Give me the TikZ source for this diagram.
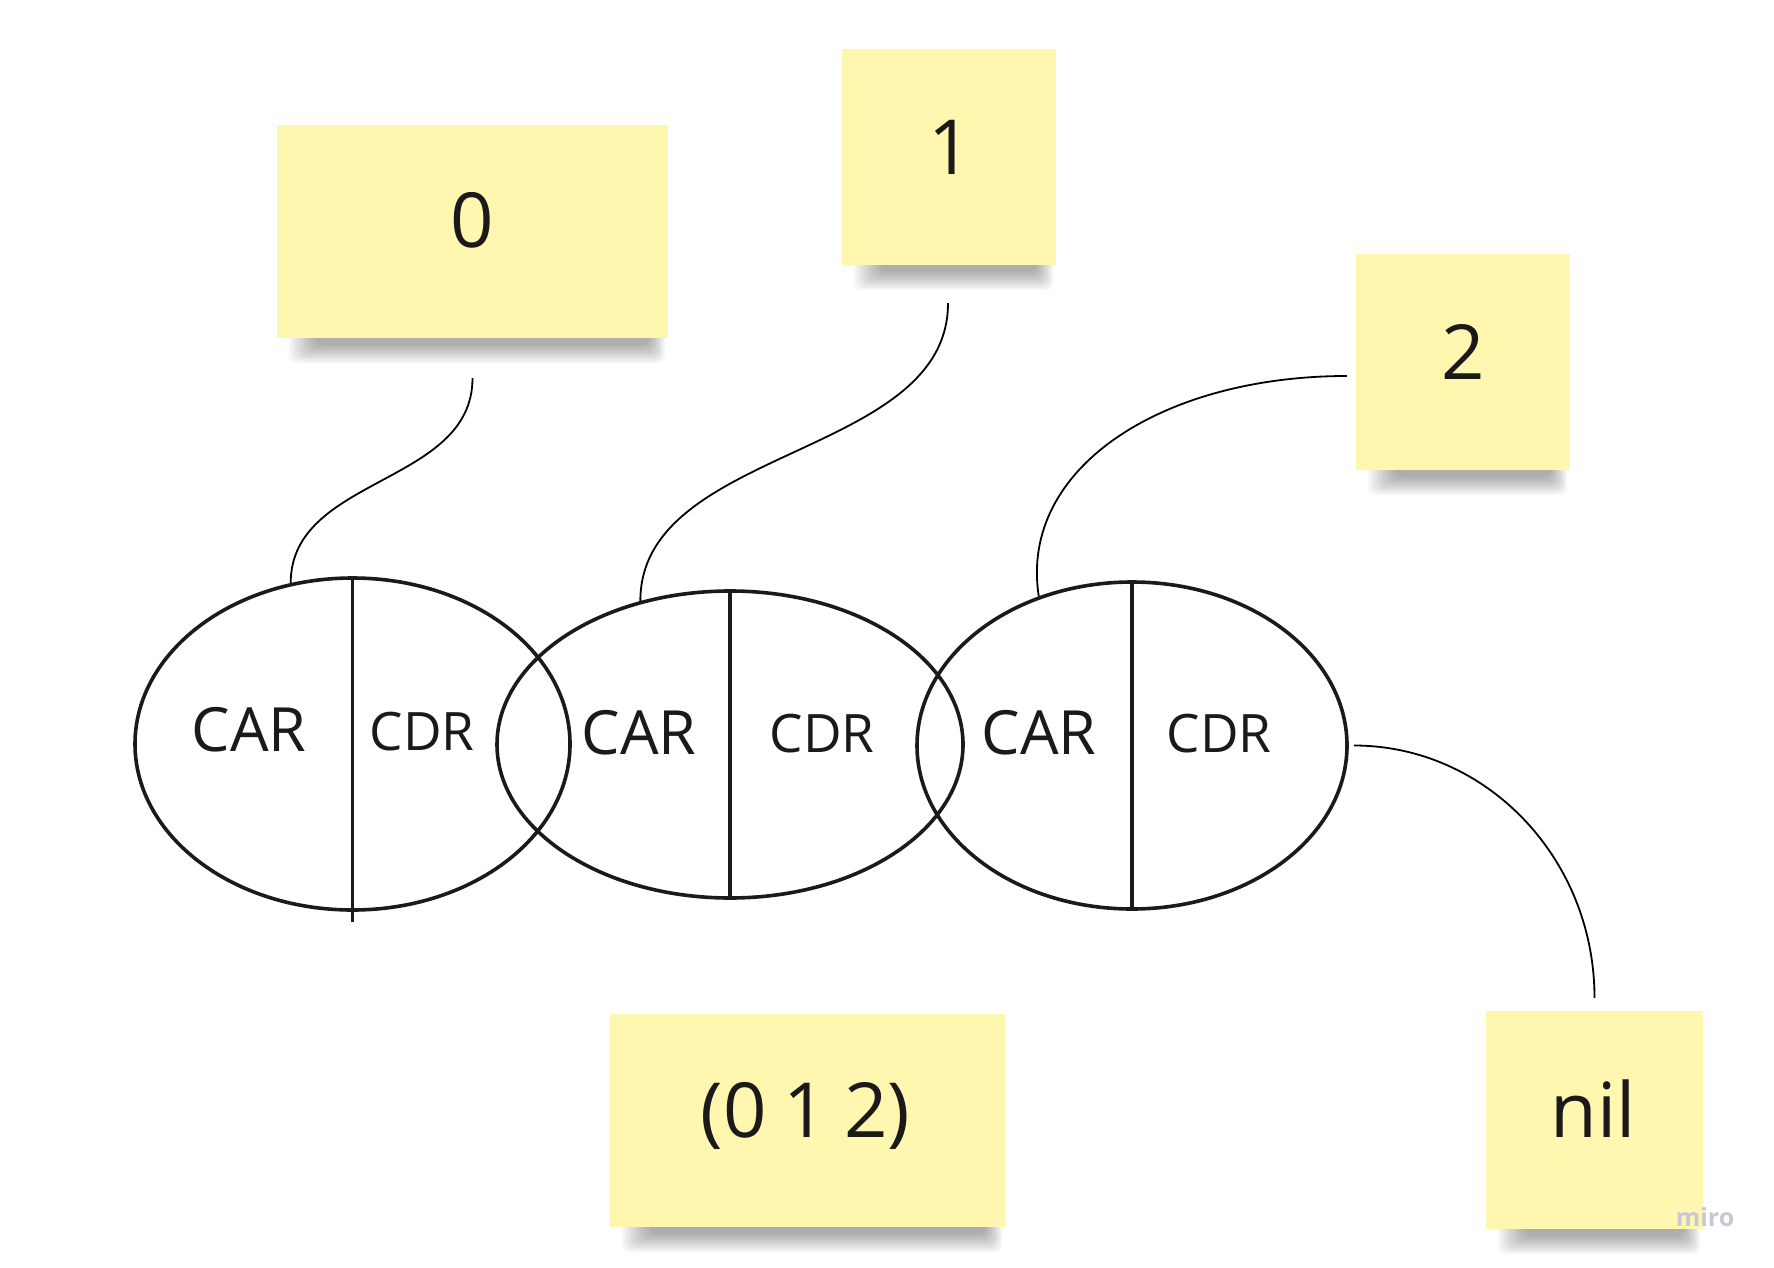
\documentclass[tikz,border=0pt]{standalone}
\usepackage{fontspec}
\setmainfont{Open Sans}
\usetikzlibrary{shapes.geometric,backgrounds}
\definecolor{sticky}{RGB}{255,247,176}
\definecolor{inkc}{RGB}{26,26,26}
\definecolor{wm}{RGB}{200,200,212}
\begin{document}
\begin{tikzpicture}[x=1pt,y=-1pt,
  stickynote/.style={rectangle, fill=sticky, inner sep=0pt},
  bigtxt/.style={inner sep=0pt, anchor=base, text=inkc, font=\fontsize{76}{90}\selectfont},
  cartxt/.style={inner sep=0pt, anchor=base, text=inkc, font=\fontsize{61}{70}\selectfont},
  cdrtxt/.style={inner sep=0pt, anchor=base, text=inkc, font=\fontsize{53}{62}\selectfont},
  cell/.style={ellipse, draw=inkc, line width=3.6pt, inner sep=0pt},
  divider/.style={draw=inkc, line width=3.6pt},
  conn/.style={draw=black, line width=1.8pt},
  shadowlayer/.style={fill=black, opacity=0.034, rounded corners=8pt}
]
\useasboundingbox (0,0) rectangle (1774,1268);

% sticky notes
\node[stickynote, minimum width=391pt, minimum height=213pt] (s0) at (472.5,231.5) {};
\node[stickynote, minimum width=214pt, minimum height=216pt] (s1) at (949,157) {};
\node[stickynote, minimum width=214pt, minimum height=216pt] (s2) at (1463,362) {};
\node[stickynote, minimum width=395pt, minimum height=213pt] (s012) at (807.5,1120.5) {};
\node[stickynote, minimum width=217pt, minimum height=218pt] (snil) at (1594.5,1120) {};

% background and soft shadows under the sticky notes
\begin{scope}[on background layer]
  \fill[white] (0,0) rectangle (1774,1268);
  \foreach \s in {s0,s1,s2,s012,snil} {
    \foreach \i in {0,...,9} {
      \path[shadowlayer] ([xshift={(12+3*\i)*1pt}, yshift=9pt]\s.south west) rectangle ([xshift={(-3-1.8*\i)*1pt}, yshift={(-25+2*\i)*1pt}]\s.south east);
    }
  }
\end{scope}

% sticky texts
\node[bigtxt] (t0) at (472.5,247) {0};
\node[bigtxt] (t1) at (950,175) {1};
\node[bigtxt] (t2) at (1463,379) {2};
\node[bigtxt] (t012) at (805.5,1137) {\spaceskip=17pt\relax(0 1 2)};
\node[bigtxt] (tnil) at (1593,1137) {nil};

% cons cells
\node[cell, minimum width=435pt, minimum height=332pt] (e1) at (352.5,744) {};
\node[cell, minimum width=466pt, minimum height=307pt] (e2) at (730,744.5) {};
\node[cell, minimum width=430pt, minimum height=327pt] (e3) at (1132,745.5) {};

\draw[divider] (e1.north) -- ([yshift=-10pt]e1.south);
\draw[divider] (e2.north) -- (e2.south);
\draw[divider] (e3.north) -- (e3.south);

\node[cartxt] (car1) at (249,751) {CAR};
\node[cdrtxt] (cdr1) at (422,750) {CDR};
\node[cartxt] (car2) at (639,754) {CAR};
\node[cdrtxt] (cdr2) at (822,752) {CDR};
\node[cartxt] (car3) at (1039,754) {CAR};
\node[cdrtxt] (cdr3) at (1219,752) {CDR};

% connectors
\draw[conn] ([yshift=-40pt]s0.south) .. controls +(0,107) and +(0,-107) .. (e1.111);
\draw[conn] ([xshift=-1pt,yshift=-38pt]s1.south) .. controls +(0,155) and +(0,-155) .. (e2.122);
\draw[conn] ([xshift=-9pt,yshift=-14pt]s2.west) .. controls +(-185,0) and +(-20,-128) .. (e3.122);
\draw[conn] ([xshift=5pt]e3.east) .. controls +(133,0) and +(0,-139) .. ([yshift=13pt]snil.north);

% watermark
\node[inner sep=0pt, anchor=base, text=wm, font=\fontsize{25}{30}\selectfont\bfseries] (miro) at (1705,1226) {miro};
\end{tikzpicture}
\end{document}
